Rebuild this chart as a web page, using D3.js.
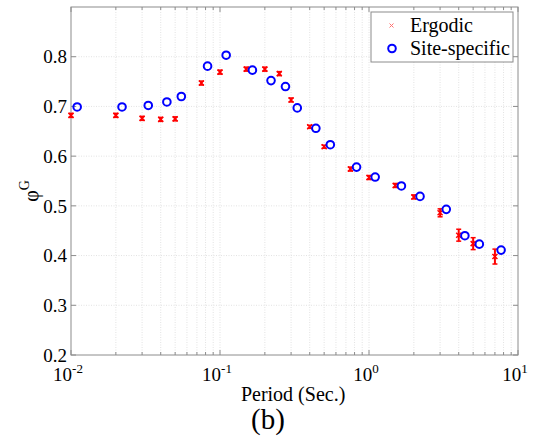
<!DOCTYPE html>
<html>
<head>
<meta charset="utf-8">
<script src="https://cdn.jsdelivr.net/npm/d3@7"></script>
<style>
  body { margin: 0; background: #fff; }
</style>
</head>
<body>
<svg width="534" height="446"></svg>
<script>
// Ergodic (red, with error bars)
var periods = [0.01, 0.02, 0.03, 0.04, 0.05, 0.075, 0.1, 0.15, 0.2, 0.25, 0.3,
  0.4, 0.5, 0.75, 1, 1.5, 2, 3, 4, 5, 7];
var ergodic = [0.682, 0.682, 0.676, 0.674, 0.675, 0.747, 0.769, 0.775, 0.775, 0.766, 0.713,
  0.659, 0.619, 0.574, 0.557, 0.541, 0.518, 0.486, 0.441, 0.424, 0.398];
var ergodicErr = [0.004, 0.004, 0.004, 0.004, 0.004, 0.004, 0.004, 0.004, 0.004, 0.004, 0.004,
  0.003, 0.003, 0.004, 0.004, 0.004, 0.004, 0.008, 0.012, 0.012, 0.015];

// Site-specific (blue circles)
var sitePeriods = [0.011, 0.022, 0.033, 0.044, 0.055, 0.0825, 0.11, 0.165, 0.22, 0.275, 0.33,
  0.44, 0.55, 0.825, 1.1, 1.65, 2.2, 3.3, 4.4, 5.5, 7.7];
var siteSpecific = [0.699, 0.699, 0.702, 0.709, 0.720, 0.781, 0.803, 0.773, 0.752, 0.740, 0.697,
  0.656, 0.623, 0.578, 0.558, 0.540, 0.519, 0.493, 0.440, 0.423, 0.411];

var xMajor = [0.01, 0.1, 1, 10];
var xExp = ["-2", "-1", "0", "1"];
var yTicks = [0.2, 0.3, 0.4, 0.5, 0.6, 0.7, 0.8];

var svg = d3.select("svg")
    .attr("font-family", "'Liberation Serif', 'Times New Roman', 'DejaVu Serif', serif"),
  margin = {top: 7, right: 16, bottom: 91, left: 71},
  width = 534 - margin.left - margin.right,
  height = 446 - margin.top - margin.bottom,
  g = svg.append("g").attr("transform", "translate(" + margin.left + "," + margin.top + ")");

var x = d3.scaleLog().domain([0.01, 10]).range([0, width]);
var y = d3.scaleLinear().domain([0.2, 0.9]).range([height, 0]);

// minor ticks of the log axis
var xMinor = [];
[0.01, 0.1, 1].forEach(function(d) {
  for (var k = 2; k <= 9; k++) xMinor.push(d * k);
});

var frameColor = "#8c8c8c";

// grid
g.append("g").selectAll("line")
  .data(xMinor.concat(xMajor.slice(1, 3)))
  .enter().append("line")
  .attr("x1", function(d) { return x(d); })
  .attr("x2", function(d) { return x(d); })
  .attr("y1", 0).attr("y2", height)
  .attr("stroke", "#e2e2e2")
  .attr("stroke-dasharray", "1,1.5");

g.append("g").selectAll("line")
  .data(yTicks.slice(1))
  .enter().append("line")
  .attr("x1", 0).attr("x2", width)
  .attr("y1", function(d) { return y(d); })
  .attr("y2", function(d) { return y(d); })
  .attr("stroke", "#e2e2e2")
  .attr("stroke-dasharray", "1,1.5");

// frame
g.append("rect")
  .attr("width", width).attr("height", height)
  .attr("fill", "none").attr("stroke", frameColor);

// ticks (inward) on all four sides
function tickLines(data, len, horizontal, offset, dir) {
  g.append("g").selectAll("line")
    .data(data).enter().append("line")
    .attr("x1", function(d) { return horizontal ? x(d) : offset; })
    .attr("x2", function(d) { return horizontal ? x(d) : offset + dir * len; })
    .attr("y1", function(d) { return horizontal ? offset : y(d); })
    .attr("y2", function(d) { return horizontal ? offset + dir * len : y(d); })
    .attr("stroke", frameColor);
}
tickLines(xMajor, 5, true, height, -1);
tickLines(xMinor, 3, true, height, -1);
tickLines(xMajor, 5, true, 0, 1);
tickLines(xMinor, 3, true, 0, 1);
tickLines(yTicks, 5, false, 0, 1);
tickLines(yTicks, 5, false, width, -1);

// y tick labels
g.append("g").selectAll("text")
  .data(yTicks).enter().append("text")
  .attr("x", -4)
  .attr("y", function(d) { return y(d); })
  .attr("dy", "0.35em")
  .attr("text-anchor", "end")
  .style("font-size", "19px")
  .text(function(d) { return d3.format(".1f")(d); });

// x tick labels 10^n
var xl = g.append("g").selectAll("text")
  .data(xMajor).enter().append("text")
  .attr("x", function(d) { return x(d) - 3; })
  .attr("y", height + 26)
  .attr("text-anchor", "middle")
  .style("font-size", "19px");
xl.append("tspan").text("10");
xl.append("tspan")
  .attr("dy", -8)
  .style("font-size", "13px")
  .text(function(d, i) { return xExp[i]; });

// axis titles
g.append("text")
  .attr("x", x(0.3) + 2)
  .attr("y", height + 46)
  .attr("text-anchor", "middle")
  .style("font-size", "20px")
  .text("Period (Sec.)");

svg.append("text")
  .attr("x", 268)
  .attr("y", 429)
  .attr("text-anchor", "middle")
  .style("font-size", "29px")
  .text("(b)");

var yl = svg.append("text")
  .attr("transform", "translate(38," + (margin.top + y(0.53)) + ") rotate(-90)")
  .attr("text-anchor", "middle")
  .style("font-size", "20px");
yl.append("tspan").text("\u03c6");
yl.append("tspan").attr("dy", -9).style("font-size", "14px").text("G");

// ergodic: error bars + x markers
var erg = g.append("g").selectAll("g")
  .data(periods.map(function(p, i) { return {p: p, v: ergodic[i], e: ergodicErr[i]}; }))
  .enter().append("g")
  .attr("transform", function(d) { return "translate(" + x(d.p) + ",0)"; });

erg.append("line")
  .attr("x1", 0).attr("x2", 0)
  .attr("y1", function(d) { return y(d.v - d.e); })
  .attr("y2", function(d) { return y(d.v + d.e); })
  .attr("stroke", "#ff0000").attr("stroke-width", 2);

erg.each(function(d) {
  var s = d3.select(this);
  [d.v - d.e, d.v + d.e].forEach(function(v) {
    s.append("line")
      .attr("x1", -2.5).attr("x2", 2.5)
      .attr("y1", y(v)).attr("y2", y(v))
      .attr("stroke", "#ff0000").attr("stroke-width", 1.5);
  });
  s.append("path")
    .attr("d", "M-2.5," + (y(d.v) - 2.5) + "l5,5M-2.5," + (y(d.v) + 2.5) + "l5,-5")
    .attr("stroke", "#ff0000").attr("stroke-width", 1.5);
});

// site-specific circles
g.append("g").selectAll("circle")
  .data(sitePeriods.map(function(p, i) { return {p: p, v: siteSpecific[i]}; }))
  .enter().append("circle")
  .attr("cx", function(d) { return x(d.p); })
  .attr("cy", function(d) { return y(d.v); })
  .attr("r", 3.8)
  .attr("fill", "none")
  .attr("stroke", "#0000ff")
  .attr("stroke-width", 2);

// legend
var lg = svg.append("g").attr("transform", "translate(371,12)");
lg.append("rect")
  .attr("width", 142).attr("height", 50)
  .attr("fill", "#fff").attr("stroke", frameColor);
lg.append("path")
  .attr("d", "M18.5,11.5l4,4M18.5,15.5l4,-4")
  .attr("stroke", "#ff7070").attr("stroke-width", 1);
lg.append("circle")
  .attr("cx", 21).attr("cy", 36.5).attr("r", 3.8)
  .attr("fill", "none").attr("stroke", "#0000ff").attr("stroke-width", 2);
lg.append("text").attr("x", 39).attr("y", 20).style("font-size", "20px").text("Ergodic");
lg.append("text").attr("x", 39).attr("y", 43).style("font-size", "20px").text("Site-specific");
</script>
</body>
</html>
